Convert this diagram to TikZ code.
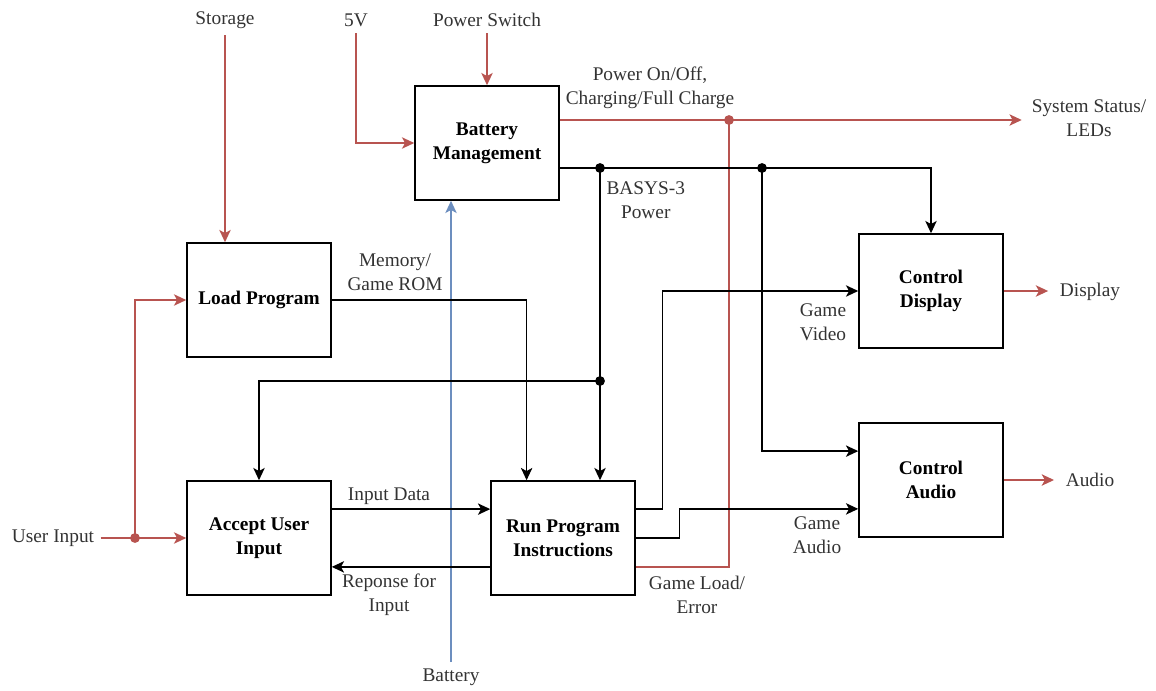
\documentclass[tikz,border=0pt]{standalone}
\usepackage{fontspec}
\setmainfont{Liberation Serif}
\usetikzlibrary{calc,arrows.meta,positioning}
\definecolor{linered}{RGB}{184,84,80}
\definecolor{lineblue}{RGB}{108,142,191}
\definecolor{labelgray}{RGB}{51,51,51}

\begin{document}
\begin{tikzpicture}[x=0.02cm,y=-0.02cm,line width=0.8pt,
    >={Stealth[length=7pt,width=6.5pt,inset=1.8pt]},
    block/.style={draw,line width=0.9pt,minimum width=2.88cm,minimum height=2.28cm,
      align=center,font=\fontsize{11}{13.5}\selectfont\bfseries},
    lbl/.style={align=center,text=labelgray,font=\fontsize{11}{13.5}\selectfont},
    redln/.style={linered},
    blueln/.style={lineblue}]
    \useasboundingbox (0,0) rectangle (1156,690);
    % Bloques
    \node[block] (bm) at (487,143) {Battery\\Management};
    \node[block] (lp) at (259,300) {Load Program};
    \node[block] (au) at (259,538) {Accept User\\Input};
    \node[block] (rp) at (563,538) {Run Program\\Instructions};
    \node[block] (cd) at (931,291) {Control\\Display};
    \node[block] (ca) at (931,480) {Control\\Audio};
    % Entradas y salidas
    \node[lbl] (storage) at (225,20) {Storage};
    \node[lbl] (fivev) at (356,20) {5V};
    \node[lbl] (pswitch) at (487,20) {Power Switch};
    \node[lbl] (battery) at (451,677) {Battery};
    \node[lbl] (status) at (1089,118) {System Status/\\LEDs};
    \node[lbl] (disp) at (1090,292) {Display};
    \node[lbl] (audio) at (1090,480) {Audio};
    \node[lbl] (uinput) at (53,538) {User Input};
    % Etiquetas de las senales
    \node[lbl] (onoff) at (650,88) {Power On/Off,\\Charging/Full Charge};
    \node[lbl,anchor=west] (basys) at (600,200) {BASYS-3\\Power};
    \node[lbl] (rom) at (395,272) {Memory/\\Game ROM};
    \node[lbl] (indata) at (389,496) {Input Data};
    \node[lbl] (resp) at (389,595) {Reponse for\\Input};
    \node[lbl] (gvideo) at (823,322) {Game\\Video};
    \node[lbl] (gaudio) at (817,535) {Game\\Audio};
    \node[lbl] (gload) at (697,595) {Game Load/\\Error};
    % Uniones
    \coordinate (rj) at (729,120);
    \coordinate (pj1) at (600,168);
    \coordinate (pj2) at (762,168);
    \coordinate (pj3) at (600,381);
    \coordinate (uj) at (135,538);
    % Alimentacion y estado (rojo)
    \draw[redln,->] (storage.south) -- (storage.south |- lp.north);
    \draw[redln,->] (fivev.south) |- (bm.west);
    \draw[redln,->] (pswitch.south) -- (bm.north);
    \draw[blueln,->] (battery.north) -- (battery.north |- bm.south);
    \draw[redln,->] (bm.east |- rj) -- ([xshift=-2pt]status.west |- rj);
    \draw[redln] ($(rp.north east)!.75!(rp.south east)$) -| (rj);
    \draw[redln,->] (cd.east) -- ([xshift=-3pt]cd.east -| disp.west);
    \draw[redln,->] (ca.east) -- ([xshift=-3pt]ca.east -| audio.west);
    \draw[redln] (uinput.east) -- (uj);
    \draw[redln,->] (uj) -- (au.west);
    \draw[redln,->] (uj) |- (lp.west);
    % Alimentacion BASYS-3
    \draw[->] (bm.east |- pj1) -| (cd.north);
    \draw[->] (pj1) -- (pj1 |- rp.north);
    \draw[->] (pj3) -| (au.north);
    \draw[->] (pj2) |- ($(ca.north west)!.25!(ca.south west)$);
    % Datos
    \draw[->] (lp.east) -| ($(rp.north west)!.25!(rp.north east)$);
    \draw[->] ($(au.north east)!.25!(au.south east)$) -- ($(rp.north west)!.25!(rp.south west)$);
    \draw[->] ($(rp.north west)!.75!(rp.south west)$) -- ($(au.north east)!.75!(au.south east)$);
    \draw[->] ($(rp.north east)!.25!(rp.south east)$) -- ++(27,0) |- (cd.west);
    \draw[->] (rp.east) -- ++(44,0) |- ($(ca.north west)!.75!(ca.south west)$);
    % Puntos
    \foreach \p in {rj,uj}{
      \fill[linered] (\p) circle (2.8pt);
    }
    \foreach \p in {pj1,pj2,pj3}{
      \fill (\p) circle (2.8pt);
    }
\end{tikzpicture}
\end{document}
